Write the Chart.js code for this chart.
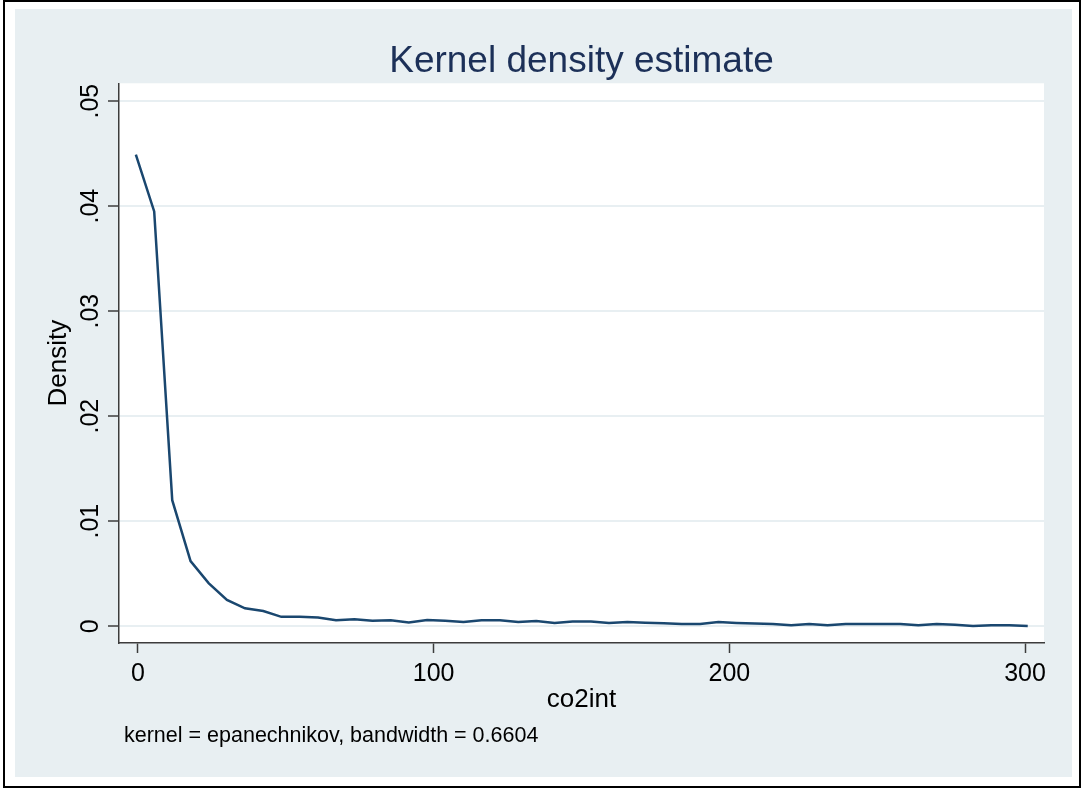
<!DOCTYPE html>
<html lang="en">
<head>
    <meta charset="UTF-8">
    <title>Kernel density estimate</title>
    <script src="https://cdn.jsdelivr.net/npm/chart.js"></script>
    <style>
        body {
            margin: 0;
            background: #fff;
        }
        #kdChart {
            display: block;
        }
    </style>
</head>
<body>
    <canvas id="kdChart" width="1082" height="788"></canvas>

    <script>
        // evaluation points (co2int) and estimated density
        const xValues = [
            -0.7, 5.5, 11.6, 17.8, 23.9, 30.1, 36.2, 42.4, 48.5, 54.7,
            60.9, 67.0, 73.2, 79.3, 85.5, 91.6, 97.8, 103.9, 110.1, 116.2,
            122.4, 128.6, 134.7, 140.9, 147.0, 153.2, 159.3, 165.5, 171.6, 177.8,
            183.9, 190.1, 196.3, 202.4, 208.6, 214.7, 220.9, 227.0, 233.2, 239.3,
            245.5, 251.6, 257.8, 263.9, 270.1, 276.3, 282.4, 288.6, 294.7, 300.9
        ];
        const densityValues = [
            0.0449, 0.0395, 0.0120, 0.0062, 0.0041, 0.0025, 0.0017, 0.00145, 0.00089, 0.00089,
            0.00083, 0.00057, 0.00067, 0.00051, 0.00057, 0.00035, 0.00060, 0.00051, 0.00041, 0.00057,
            0.00057, 0.00041, 0.00050, 0.00031, 0.00045, 0.00045, 0.00031, 0.00040, 0.00033, 0.00029,
            0.00022, 0.00022, 0.00040, 0.00031, 0.00025, 0.00020, 0.00010, 0.00022, 0.00010, 0.00022,
            0.00022, 0.00022, 0.00022, 0.00010, 0.00022, 0.00013, 0.00003, 0.00010, 0.00010, 0.00003
        ];

        const xTicks = [0, 100, 200, 300];
        const yTicks = [0, 0.01, 0.02, 0.03, 0.04, 0.05];
        const yTickLabels = ['0', '.01', '.02', '.03', '.04', '.05'];

        const titleText = 'Kernel density estimate';
        const xTitle = 'co2int';
        const yTitle = 'Density';
        const noteText = 'kernel = epanechnikov, bandwidth = 0.6604';

        const FONT = '"Liberation Sans", Arial, Helvetica, sans-serif';
        const regionColor = '#e8eff2';
        const axisColor = '#3c3c3c';
        const lineColor = '#1a476f';

        // Stata-like graph region: outer frame, light region, white plot area
        const backgroundPlugin = {
            id: 'stataBackground',
            beforeDraw(chart) {
                const ctx = chart.ctx;
                const area = chart.chartArea;
                ctx.save();
                ctx.fillStyle = '#fff';
                ctx.fillRect(0, 0, chart.width, chart.height);
                ctx.strokeStyle = '#000';
                ctx.lineWidth = 2;
                ctx.strokeRect(4, 1, chart.width - 6, chart.height - 2);
                ctx.fillStyle = regionColor;
                ctx.fillRect(15, 9, chart.width - 25, chart.height - 20);
                ctx.fillStyle = '#fff';
                ctx.fillRect(area.left, area.top, area.right - area.left, area.bottom - area.top);
                ctx.restore();
            }
        };

        // vertical y tick labels and the kernel note
        const labelsPlugin = {
            id: 'stataLabels',
            afterDraw(chart) {
                const ctx = chart.ctx;
                const y = chart.scales.y;
                ctx.save();
                ctx.fillStyle = '#000';
                ctx.font = '25px ' + FONT;
                ctx.textAlign = 'center';
                ctx.textBaseline = 'alphabetic';
                yTicks.forEach((v, i) => {
                    ctx.save();
                    ctx.translate(y.right - 21, y.getPixelForValue(v));
                    ctx.rotate(-Math.PI / 2);
                    ctx.fillText(yTickLabels[i], 0, 0);
                    ctx.restore();
                });
                ctx.font = '21.5px ' + FONT;
                ctx.textAlign = 'left';
                ctx.fillText(noteText, 124, 742);
                ctx.restore();
            }
        };

        const ctx = document.getElementById('kdChart').getContext('2d');
        new Chart(ctx, {
            type: 'line',
            data: {
                datasets: [{
                    data: xValues.map((x, i) => ({ x: x, y: densityValues[i] })),
                    borderColor: lineColor,
                    borderWidth: 2.5,
                    pointRadius: 0,
                    fill: false,
                    tension: 0
                }]
            },
            options: {
                responsive: false,
                animation: false,
                devicePixelRatio: 1,
                layout: {
                    padding: { top: 40, right: 38, bottom: 68, left: 0 }
                },
                plugins: {
                    legend: { display: false },
                    tooltip: { enabled: false },
                    title: {
                        display: true,
                        fullSize: false,
                        text: titleText,
                        color: '#1c3058',
                        font: { family: FONT, size: 37, weight: 'normal', lineHeight: 1.17 },
                        padding: { top: 0, bottom: 0 }
                    }
                },
                scales: {
                    x: {
                        type: 'linear',
                        min: -6.4,
                        max: 306.4,
                        afterBuildTicks: scale => {
                            scale.ticks = xTicks.map(v => ({ value: v }));
                        },
                        afterFit: scale => {
                            scale.height = 77;
                        },
                        ticks: {
                            color: '#000',
                            font: { family: FONT, size: 25 },
                            padding: 6,
                            maxRotation: 0,
                            callback: v => String(v)
                        },
                        grid: {
                            drawOnChartArea: false,
                            drawTicks: true,
                            tickLength: 10,
                            tickColor: axisColor,
                            tickWidth: 1.5
                        },
                        border: { display: true, color: axisColor, width: 1.5 },
                        title: {
                            display: true,
                            text: xTitle,
                            color: '#000',
                            font: { family: FONT, size: 26 },
                            padding: { top: 0, bottom: 5 }
                        }
                    },
                    y: {
                        type: 'linear',
                        min: -0.0016,
                        max: 0.0517,
                        afterBuildTicks: scale => {
                            scale.ticks = yTicks.map(v => ({ value: v }));
                        },
                        afterFit: scale => {
                            scale.width = 119;
                        },
                        ticks: { display: false },
                        grid: {
                            color: regionColor,
                            lineWidth: 2,
                            drawTicks: true,
                            tickLength: 11,
                            tickColor: axisColor,
                            tickWidth: 1.5
                        },
                        border: { display: true, color: axisColor, width: 1.5 },
                        title: {
                            display: true,
                            text: yTitle,
                            color: '#000',
                            font: { family: FONT, size: 26 },
                            padding: { top: 43, bottom: 0 }
                        }
                    }
                }
            },
            plugins: [backgroundPlugin, labelsPlugin]
        });
    </script>
</body>
</html>
